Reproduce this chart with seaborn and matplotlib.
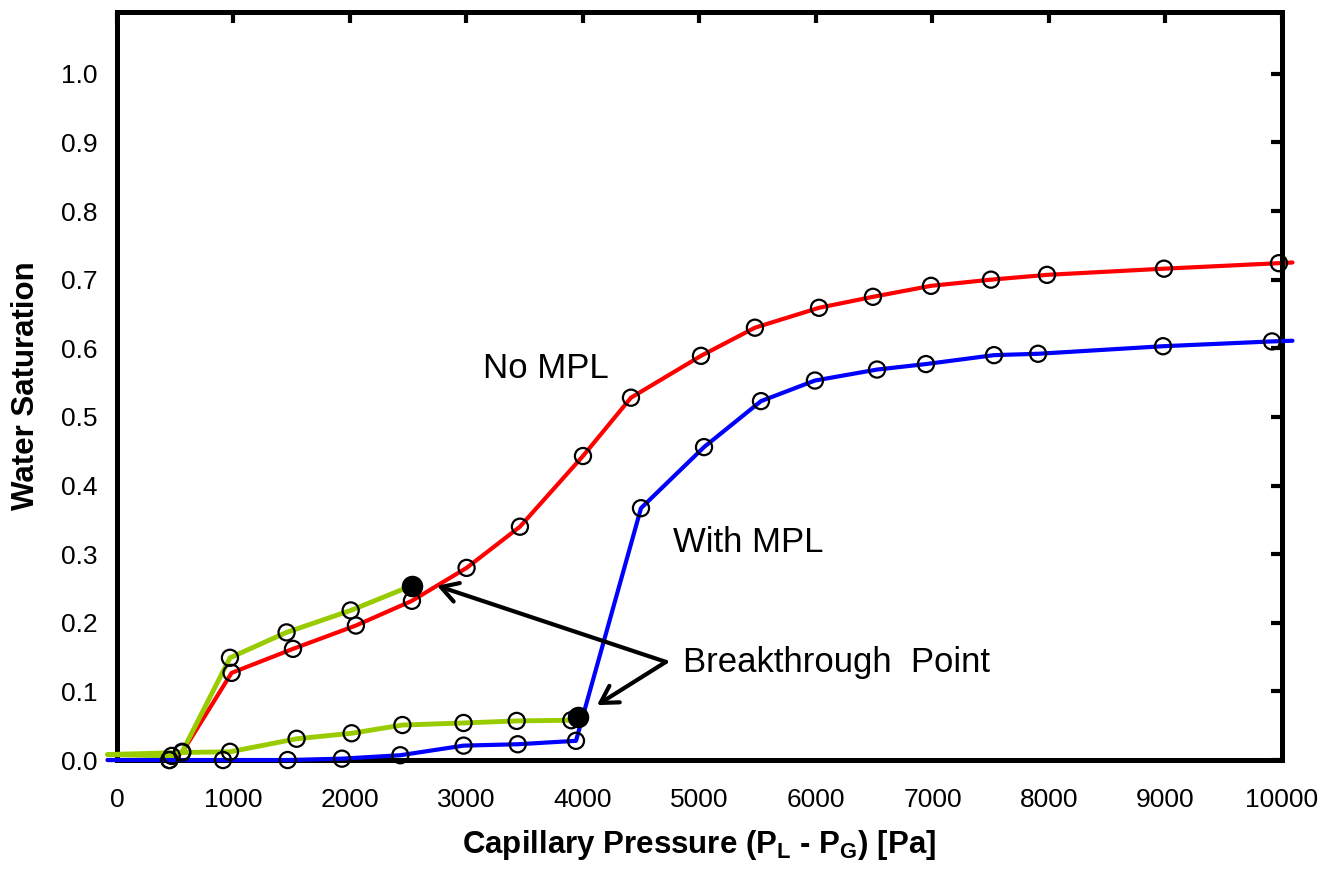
import seaborn as sns
import matplotlib.pyplot as plt
import pandas as pd

# marker positions
no_mpl_x = [450, 560, 984, 1511, 2051, 2532, 3001, 3459, 4000, 4412, 5013, 5476,
            6026, 6489, 6987, 7502, 7983, 8987, 9974]
no_mpl_y = [0.0, 0.011, 0.127, 0.162, 0.196, 0.232, 0.280, 0.340, 0.443, 0.528,
            0.589, 0.630, 0.659, 0.675, 0.691, 0.700, 0.707, 0.716, 0.724]

with_mpl_x = [450, 910, 1465, 1931, 2432, 2975, 3440, 3940, 4498, 5039, 5528,
              5991, 6524, 6944, 7528, 7906, 8979, 9914]
with_mpl_y = [0.0, 0.0, 0.0, 0.002, 0.007, 0.021, 0.023, 0.028, 0.367, 0.456,
              0.523, 0.553, 0.569, 0.577, 0.590, 0.592, 0.603, 0.610]

# pre-breakthrough (green) branches
pre_no_mpl_x = [470, 560, 970, 1456, 2006]
pre_no_mpl_y = [0.006, 0.012, 0.149, 0.186, 0.218]
pre_with_mpl_x = [970, 1542, 2014, 2450, 2975, 3431, 3900]
pre_with_mpl_y = [0.012, 0.031, 0.039, 0.051, 0.054, 0.057, 0.058]

breakthrough_x = [2530, 3960]
breakthrough_y = [0.254, 0.062]

# line ends run a little past the frame in the original
line_start_x = -80
line_end_x = 10090

plt.figure(figsize=(13.35, 8.71), dpi=100)
sns.set_theme(style='white')
plt.rcParams['font.family'] = ['Liberation Sans', 'DejaVu Sans']
plt.rcParams['text.color'] = 'black'
plt.rcParams['axes.labelcolor'] = 'black'
plt.rcParams['mathtext.fontset'] = 'custom'
plt.rcParams['mathtext.rm'] = 'Liberation Sans:bold'
plt.rcParams['mathtext.default'] = 'rm'

ax = plt.gca()
ax.set_position([0.0876, 0.1274, 0.8727, 0.8588])

red = pd.DataFrame({'x': [line_start_x] + no_mpl_x + [line_end_x],
                    'y': [0.0] + no_mpl_y + [0.725]})
blue = pd.DataFrame({'x': [line_start_x] + with_mpl_x + [line_end_x],
                     'y': [0.0] + with_mpl_y + [0.611]})
green_up = pd.DataFrame({'x': [line_start_x] + pre_no_mpl_x + [breakthrough_x[0]],
                         'y': [0.008] + pre_no_mpl_y + [breakthrough_y[0]]})
green_low = pd.DataFrame({'x': [line_start_x, 560] + pre_with_mpl_x + [breakthrough_x[1]],
                          'y': [0.008, 0.011] + pre_with_mpl_y + [breakthrough_y[1]]})

sns.lineplot(data=red, x='x', y='y', sort=False, color='#ff0000', lw=3, clip_on=False, ax=ax, zorder=2)
sns.lineplot(data=green_up, x='x', y='y', sort=False, color='#99cc00', lw=3.5, clip_on=False, ax=ax, zorder=3)
sns.lineplot(data=green_low, x='x', y='y', sort=False, color='#99cc00', lw=3.5, clip_on=False, ax=ax, zorder=3)
sns.lineplot(data=blue, x='x', y='y', sort=False, color='#0000ff', lw=3, clip_on=False, ax=ax, zorder=3)

circles = pd.DataFrame({
    'x': no_mpl_x + with_mpl_x + pre_no_mpl_x + pre_with_mpl_x,
    'y': no_mpl_y + with_mpl_y + pre_no_mpl_y + pre_with_mpl_y,
})
sns.scatterplot(data=circles, x='x', y='y', s=135, facecolor='none', edgecolor='black',
                linewidth=1.6, clip_on=False, ax=ax, zorder=5)
sns.scatterplot(x=breakthrough_x, y=breakthrough_y, s=240, color='black',
                edgecolor='black', linewidth=0, ax=ax, zorder=6)

# labels and arrows
ax.text(3142, 0.557, 'No MPL', fontsize=25, ha='left', va='baseline', color='black')
ax.text(4773, 0.303, 'With MPL', fontsize=25, ha='left', va='baseline', color='black')
ax.text(4858, 0.128, 'Breakthrough  Point', fontsize=25, ha='left', va='baseline', color='black')
for tx, ty in [(2747, 0.254), (4120, 0.080)]:
    ax.annotate('', xy=(tx, ty), xytext=(4712, 0.143),
                arrowprops=dict(arrowstyle='->,head_length=0.6,head_width=0.35',
                                lw=3, color='black', shrinkA=0, shrinkB=0,
                                mutation_scale=20))

ax.set_xlim(0, 10000)
ax.set_ylim(0, 1.09)
ax.set_xticks(range(0, 10001, 1000))
ax.set_yticks([i / 10 for i in range(11)])
ax.set_yticklabels([f'{i / 10:.1f}' for i in range(11)])
ax.tick_params(direction='in', length=8, width=3, top=True, right=True,
               labelsize=19, colors='black')
ax.tick_params(axis='x', pad=20)
ax.tick_params(axis='y', pad=14)
for sp in ax.spines.values():
    sp.set_linewidth(3.6)
    sp.set_color('black')

ax.set_xlabel('Capillary Pressure (P$_{L}$ - P$_{G}$) [Pa]', fontsize=22.5,
              fontweight='bold', labelpad=12)
ax.set_ylabel('Water Saturation', fontsize=22.5, fontweight='bold', labelpad=14)

plt.savefig('out.png', dpi=100)
plt.close()
